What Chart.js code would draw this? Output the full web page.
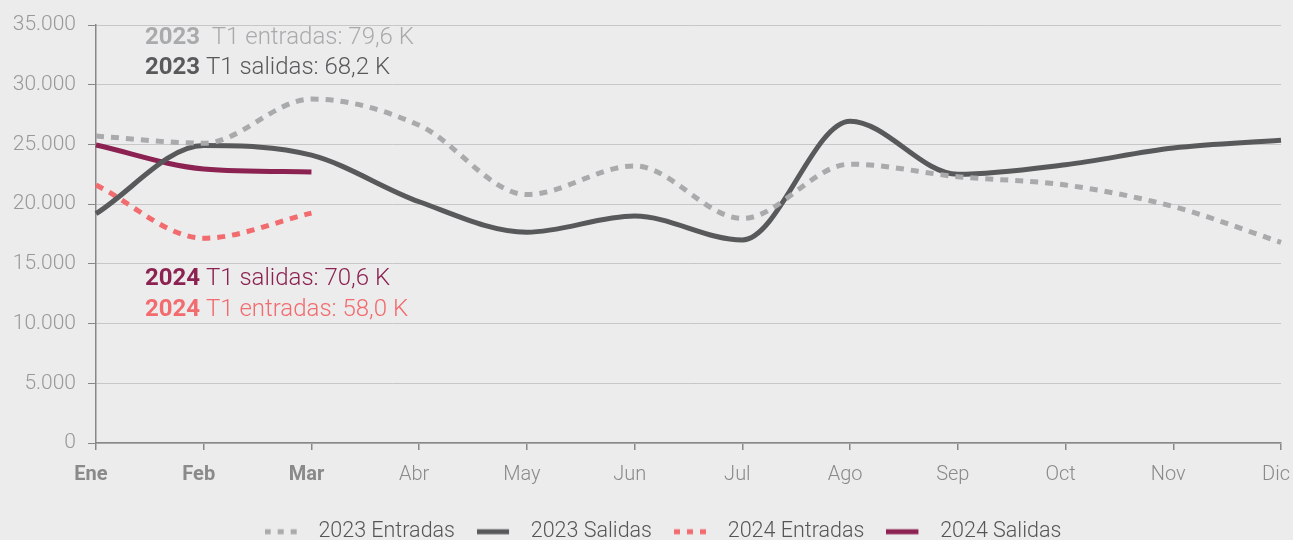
<!DOCTYPE html>
<html><head><meta charset="utf-8">
<script src="https://cdn.jsdelivr.net/npm/chart.js@4"></script>
<style>
html,body{margin:0;padding:0;background:#ebeceb;overflow:hidden}
#wrap{width:1293px;height:540px;position:relative}
</style></head>
<body><div id="wrap"><canvas id="c"></canvas></div>
<script>
const months = ['Ene','Feb','Mar','Abr','May','Jun','Jul','Ago','Sep','Oct','Nov','Dic'];
const entradas2023 = [25700,25100,28800,26600,20800,23200,18800,23350,22300,21600,19800,16800];
const salidas2023  = [19200,24900,24100,20200,17650,19000,17000,26950,22500,23300,24700,25350];
const entradas2024 = [21600,17150,19250];
const salidas2024  = [24950,22950,22700];
const yTicks = [0,5000,10000,15000,20000,25000,30000,35000];
const notes = [
  {year:'2023', text:'  T1 entradas: 79,6 K', color:'#a9aaac', row:0},
  {year:'2023', text:' T1 salidas: 68,2 K', color:'#58595b', row:1},
  {year:'2024', text:' T1 salidas: 70,6 K', color:'#8c2252', row:2},
  {year:'2024', text:' T1 entradas: 58,0 K', color:'#f26b6f', row:3}
];

const FONT = 'Roboto';
const notePlugin = {
  id:'notes',
  afterLayout(chart){
    if (chart.legend) { chart.legend.left += 33; chart.legend.top += 3; }
  },
  afterDatasetsDraw(chart){
    const {ctx} = chart;
    const x = chart.scales.x.getPixelForValue(0) + 49;
    const ys = [chart.chartArea.top + 13, chart.chartArea.top + 43, chart.scales.y.getPixelForValue(13700), chart.scales.y.getPixelForValue(11150)];
    ctx.save();
    ctx.textBaseline = 'middle';
    notes.forEach(n=>{
      const y = ys[n.row];
      ctx.fillStyle = n.color;
      ctx.font = 'bold 24px ' + FONT;
      ctx.fillText(n.year, x, y);
      const w = ctx.measureText(n.year).width;
      ctx.font = '300 24px ' + FONT;
      ctx.fillText(n.text, x + w, y);
    });
    ctx.restore();
  }
};

const dashedSets = [0,2];
function legendIcon(color, dashed){
  const c = document.createElement('canvas');
  c.width = 43; c.height = 8;
  const g = c.getContext('2d');
  g.strokeStyle = color; g.lineWidth = 5;
  g.setLineDash(dashed ? [6,7] : []);
  g.beginPath(); g.moveTo(0, 4); g.lineTo(32, 4); g.stroke();
  return c;
}

new Chart(document.getElementById('c'), {
  type:'line',
  data:{
    labels: months,
    datasets:[
      {label:'2023 Entradas', data:entradas2023, borderColor:'#a9aaac', backgroundColor:'#a9aaac', borderWidth:5, borderDash:[8,7], pointRadius:0, cubicInterpolationMode:'monotone'},
      {label:'2023 Salidas', data:salidas2023, borderColor:'#58595b', backgroundColor:'#58595b', borderWidth:5, pointRadius:0, cubicInterpolationMode:'monotone'},
      {label:'2024 Entradas', data:entradas2024, borderColor:'#f26b6f', backgroundColor:'#f26b6f', borderWidth:5, borderDash:[8,7], pointRadius:0, cubicInterpolationMode:'monotone'},
      {label:'2024 Salidas', data:salidas2024, borderColor:'#8c2252', backgroundColor:'#8c2252', borderWidth:5, pointRadius:0, cubicInterpolationMode:'monotone'}
    ]
  },
  options:{
    responsive:true, maintainAspectRatio:false, animation:false,
    layout:{padding:{top:25,right:0,bottom:-9.5,left:0}},
    plugins:{
      tooltip:{enabled:false},
      legend:{
        position:'bottom',
        labels:{
          usePointStyle:true, pointStyleWidth:43,
          color:'#555', padding:22,
          font:{family:FONT, size:21.5, weight:'300'},
          generateLabels(chart){
            const items = Chart.defaults.plugins.legend.labels.generateLabels(chart);
            items.forEach(it=>{
              const ds = chart.data.datasets[it.datasetIndex];
              it.pointStyle = legendIcon(ds.borderColor, dashedSets.includes(it.datasetIndex));
            });
            return items;
          }
        }
      }
    },
    scales:{
      x:{
        grid:{drawOnChartArea:false, color:'#888', tickLength:7, lineWidth:1.5},
        border:{color:'#888', width:1.5},
        ticks:{padding:13, labelOffset:-5, color:'#8a8a8a', maxRotation:0, autoSkip:false,
          font:(c)=>({family:FONT, size:20, weight: c.index<3 ? 'bold':'300'})},
        afterFit(s){ s.paddingRight = 12; s.paddingLeft = 0; s.height = 53; }
      },
      y:{
        min:0, max:35000,
        afterBuildTicks(s){ s.ticks = yTicks.map(v=>({value:v})); },
        grid:{color:'#c6c7c6', lineWidth:1, tickLength:8, tickColor:'#888'},
        border:{color:'#888', width:1.5},
        ticks:{padding:12, color:'#999', font:{family:FONT, size:21, weight:'300'},
          callback:(v)=>v.toLocaleString('de-DE')},
        afterFit(s){ s.width = 96; }
      }
    }
  },
  plugins:[notePlugin]
});
</script></body></html>
